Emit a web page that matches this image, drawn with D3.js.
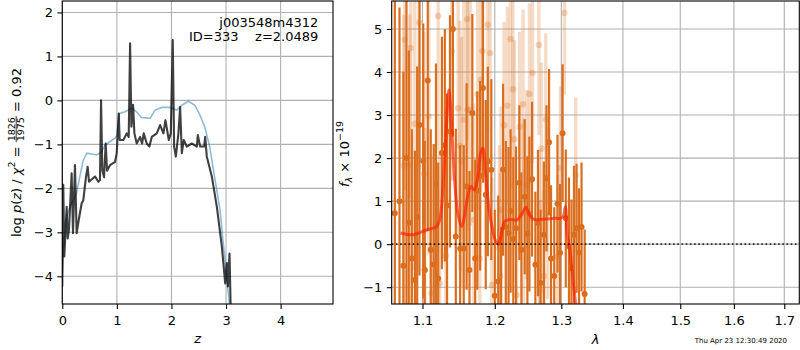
<!DOCTYPE html>
<html>
<head>
<meta charset="utf-8">
<script src="https://cdn.jsdelivr.net/npm/d3@7"></script>
<style>
  body { margin: 0; background: #fff; }
  svg { display: block; font-family: "DejaVu Sans", sans-serif; }
</style>
</head>
<body>
<svg id="fig" width="800" height="350"></svg>
<script>
// ---- left panel: log p(z) ----
const zGrid = [0, 0.018, 0.037, 0.08, 0.098, 0.122, 0.171, 0.196, 0.232, 0.263, 0.312, 0.355,
  0.385, 0.434, 0.465, 0.489, 0.6, 0.66, 0.69, 0.71, 0.734, 0.765, 0.795, 0.82, 0.875, 0.966,
  0.997, 1.034, 1.052, 1.119, 1.18, 1.217, 1.242, 1.266, 1.297, 1.321, 1.364, 1.425, 1.462,
  1.492, 1.547, 1.596, 1.639, 1.731, 1.792, 1.853, 1.89, 1.951, 1.988, 2.024, 2.049, 2.08,
  2.128, 2.159, 2.19, 2.226, 2.281, 2.373, 2.465, 2.483, 2.526, 2.599, 2.618, 2.648, 2.74,
  2.832, 2.924, 2.985, 3.015, 3.034, 3.064, 3.09];
const logPz = [-4.23, -1.92, -3.55, -2.42, -3.14, -2.95, -1.66, -3.02, -1.47, -3.02, -2.64, -2.34,
  -2.27, -1.74, -1.51, -1.85, -1.73, -1.85, -1.81, 0.0, -1.6, -1.75, -0.98, -1.6, -1.47, -1.4,
  -1.2, -0.3, -0.9, -0.9, -0.75, -0.83, 1.3, -0.6, -0.1, -0.75, -0.98, -0.83, -0.98,
  -0.75, -0.98, -1.05, -0.83, -0.75, -0.56, -0.75, -0.45, -0.9, -0.75, 1.37, -1.05, -1.28,
  -0.75, -0.15, -1.2, -0.9, -1.05, -0.98, -1.05, -0.79, -1.05, -1.05, -0.83, -1.28, -1.73,
  -2.42, -3.33, -4.16, -3.7, -4.23, -3.48, -5.0];

const zPrior = [0.0, 0.018, 0.08, 0.14, 0.2, 0.26, 0.32, 0.385, 0.45, 0.54, 0.63, 0.72, 0.78,
  0.87, 0.965, 1.0, 1.045, 1.15, 1.27, 1.36, 1.45, 1.61, 1.7, 1.82, 1.97, 2.1, 2.19, 2.31,
  2.43, 2.52, 2.61, 2.7, 2.79, 2.89, 2.95, 3.01, 3.06, 3.1];
const logPrior = [-3.9, -3.4, -2.64, -2.42, -2.27, -2.11, -1.74, -1.36, -1.2, -1.22, -1.24, -1.17,
  -1.02, -0.94, -0.86, -0.8, -0.3, -0.26, -0.18, -0.26, -0.39, -0.41, -0.22, -0.16, -0.16,
  -0.22, -0.11, -0.02, -0.11, -0.33, -0.6, -1.05, -1.74, -2.49, -3.25, -4.0, -4.6, -5.0];

const zTicks = [0, 1, 2, 3, 4];
const pTicks = [-4, -3, -2, -1, 0, 1, 2];

// ---- right panel: spectrum ----
const lamA = [1.064, 1.070, 1.075, 1.079, 1.082, 1.086, 1.090, 1.093, 1.096, 1.101, 1.103, 1.107,
  1.111, 1.115, 1.118, 1.121, 1.126, 1.130, 1.133, 1.137, 1.141, 1.145, 1.151, 1.156, 1.160,
  1.164, 1.168, 1.172, 1.175, 1.179, 1.183, 1.187, 1.190, 1.195, 1.200, 1.205, 1.209, 1.212,
  1.216, 1.220, 1.223, 1.227, 1.231, 1.236, 1.239, 1.244, 1.248, 1.251, 1.255, 1.260, 1.264,
  1.268, 1.273, 1.277, 1.281, 1.284, 1.289, 1.294, 1.298, 1.302, 1.307, 1.312, 1.316, 1.320,
  1.324, 1.328, 1.332, 1.337];
const fluxA = [0.72, 1.0, -0.5, 2.0, 0.5, -0.33, -0.83, 0.63, 2.77, 1.93, -0.6, 3.8,
  -0.13, -0.47, 1.4, -0.8, 2.12, 2.3, 0.9, 2.62, 5.0, 0.18, -0.1, -0.1, 1.34,
  -0.6, 3.05, -0.33, 1.24, 1.59, 3.63, 1.15, 1.92, 1.73, -1.2, -0.87, -1.6, 1.73,
  0.4, 0.26, 0.77, 0.12, 0.37, 1.43, -0.13, 1.1, 0.24, 0.7, 1.51, -0.48, 0.49,
  -0.9, 0.22, 1.53, 2.37, -0.33, -0.74, 0.94, -0.2, 2.58, 0.6, -0.05, -0.56, 0.22,
  0.37, -0.2, 0.4, -1.16];
const errA = [5.0, 4.5, 4.5, 4.2, 4.0, 3.0, 3.0, 3.5, 3.5, 3.2, 3.0, 3.5,
  2.8, 2.8, 2.8, 2.7, 2.7, 2.7, 2.6, 2.7, 2.5, 2.5, 2.4, 2.4, 2.4,
  2.3, 2.3, 2.3, 2.3, 2.2, 2.2, 2.2, 2.2, 2.1, 2.0, 2.0, 2.0, 2.0,
  2.0, 2.0, 1.9, 1.9, 1.9, 1.8, 1.8, 1.8, 1.8, 1.8, 1.8, 1.7, 1.7,
  1.7, 1.7, 1.7, 1.7, 1.7, 1.6, 1.6, 1.6, 1.6, 1.6, 1.6, 1.6, 1.6,
  1.5, 1.5, 1.5, 1.5];

const lamB = [1.0755, 1.0768, 1.0833, 1.0846, 1.0899, 1.0955, 1.1021, 1.1030, 1.1084, 1.1120,
  1.1209, 1.1230, 1.1313, 1.1395, 1.1482, 1.1507, 1.1529, 1.1561, 1.1607, 1.1613, 1.1650,
  1.1701, 1.1754, 1.1786, 1.1800, 1.1824, 1.1896, 1.1934, 1.1957, 1.2066, 1.2078, 1.2090,
  1.2135, 1.2184, 1.2229, 1.2265, 1.2286, 1.2319, 1.2364, 1.2415, 1.2423, 1.2469, 1.2511,
  1.2557, 1.2654, 1.2660, 1.2670, 1.2692, 1.2732, 1.2759, 1.2786, 1.2943, 1.2985, 1.3049, 1.3227];
const fluxB = [1.83, 4.75, 1.84, 4.56, 2.8, 5.15, 1.63, -0.6, 2.97, -1.14,
  5.3, -0.91, -0.27, 4.48, 3.16, 2.29, 1.92, 2.89, 5.23, 3.12, 3.12,
  0.57, 3.49, -0.33, 3.82, 4.49, 5.1, 4.44, -0.95, -0.1, -0.74, 0.8,
  2.77, 3.22, 4.77, 3.6, 2.44, -1.18, 2.73, 3.25, 0.72, 1.38, 3.49,
  3.98, 4.63, 0.1, -1.08, 2.22, -0.74, 2.9, 0.72, -0.29, 1.77, 5.37, 1.61];
const errB = [3.5, 3.5, 3.5, 3.5, 3.4, 3.4, 3.3, 3.3, 3.2, 3.2,
  3.1, 3.1, 3.0, 3.0, 2.9, 2.9, 2.9, 2.8, 2.8, 2.8, 2.7,
  2.7, 2.7, 2.6, 2.6, 2.6, 2.5, 2.5, 2.5, 2.4, 2.4, 2.4,
  2.4, 2.3, 2.3, 2.3, 2.3, 2.2, 2.2, 2.2, 2.2, 2.2, 2.1,
  2.1, 2.1, 2.1, 2.1, 2.0, 2.0, 2.0, 2.0, 1.9, 1.9, 1.9, 1.8];

const lamM = [1.0712, 1.0876, 1.1053, 1.1187, 1.1231, 1.1275, 1.1321, 1.1356, 1.1388, 1.1433,
  1.1478, 1.1533, 1.1569, 1.1614, 1.1660, 1.1706, 1.1752, 1.1798, 1.1830, 1.1867, 1.1913,
  1.1959, 1.2006, 1.2052, 1.2099, 1.2145, 1.2215, 1.2333, 1.2403, 1.2460, 1.2498, 1.2569,
  1.2713, 1.2906, 1.2979, 1.3028, 1.3063, 1.3091, 1.3140, 1.3190, 1.3225, 1.3250];
const fluxM = [0.26, 0.22, 0.33, 0.41, 0.57, 1.34, 2.73, 3.59, 2.89, 1.5,
  0.72, 0.41, 0.64, 1.1, 1.34, 1.26, 1.5, 2.12, 2.23, 1.65, 0.87,
  0.41, 0.1, 0.0, 0.26, 0.53, 0.57, 0.57, 0.72, 0.86, 0.72, 0.58,
  0.58, 0.6, 0.6, 0.64, 0.87, 0.26, -0.21, -0.91, -1.39, -2.0];

const lamTicks = [1.1, 1.2, 1.3, 1.4, 1.5, 1.6, 1.7];
const fTicks = [-1, 0, 1, 2, 3, 4, 5];

const idLine1 = "j003548m4312";
const idLine2 = "ID=333    z=2.0489";
const stamp = "Thu Apr 23 12:30:49 2020";

// ---- layout ----
const svg = d3.select("#fig");
const FS = 13;
const GRID = "#b0b0b0";
const ORANGE = "#db6e1e";

const L = { x0: 62.3, x1: 333, y0: 1, y1: 304 };
const R = { x0: 391.7, x1: 799.3, y0: 1, y1: 304 };

const xz = d3.scaleLinear().domain([0, 4.96]).range([L.x0, L.x1]);
const yp = d3.scaleLinear().domain([-4.63, 2.26]).range([L.y1, L.y0]);
const xl = d3.scaleLog().domain([1.06, 1.731]).range([R.x0, R.x1]);
const yf = d3.scaleLinear().domain([-1.39, 5.65]).range([R.y1, R.y0]);

const defs = svg.append("defs");
[["clipL", L], ["clipR", R]].forEach(([id, b]) => {
  defs.append("clipPath").attr("id", id).append("rect")
    .attr("x", b.x0).attr("y", b.y0).attr("width", b.x1 - b.x0).attr("height", b.y1 - b.y0);
});

function grid(b, xs, xv, ys, yv) {
  const g = svg.append("g");
  g.selectAll(".gx").data(xv).join("line")
    .attr("x1", d => xs(d)).attr("x2", d => xs(d)).attr("y1", b.y0).attr("y2", b.y1)
    .attr("stroke", GRID).attr("stroke-width", 1.1);
  g.selectAll(".gy").data(yv).join("line")
    .attr("x1", b.x0).attr("x2", b.x1).attr("y1", d => ys(d)).attr("y2", d => ys(d))
    .attr("stroke", GRID).attr("stroke-width", 1.1);
}

function axes(b, xs, xv, xfmt, ys, yv) {
  const gx = svg.append("g").attr("transform", `translate(0,${b.y1})`)
    .call(d3.axisBottom(xs).tickValues(xv).tickFormat(xfmt).tickSize(4.9).tickPadding(6.5));
  const gy = svg.append("g").attr("transform", `translate(${b.x0},0)`)
    .call(d3.axisLeft(ys).tickValues(yv).tickFormat(d3.format("d")).tickSize(4.9).tickPadding(4.5));
  [gx, gy].forEach(g => {
    g.select(".domain").remove();
    g.selectAll(".tick line").attr("stroke", "#000").attr("stroke-width", 1.1);
    g.selectAll(".tick text").attr("fill", "#000").attr("font-size", FS)
      .attr("font-family", "DejaVu Sans");
  });
  svg.append("rect").attr("x", b.x0).attr("y", b.y0)
    .attr("width", b.x1 - b.x0).attr("height", b.y1 - b.y0)
    .attr("fill", "none").attr("stroke", "#000").attr("stroke-width", 1.1);
}

function mathLabel(x, y, pieces) {
  const g = svg.append("g").attr("transform", `translate(${x},${y}) rotate(-90)`);
  const inner = g.append("g");
  let cx = 0;
  pieces.forEach(p => {
    if (p.frac) {
      const num = inner.append("text").attr("font-size", p.size).attr("text-anchor", "middle").text(p.frac[0]);
      const den = inner.append("text").attr("font-size", p.size).attr("text-anchor", "middle").text(p.frac[1]);
      const w = Math.max(num.node().getComputedTextLength(), den.node().getComputedTextLength()) + 2;
      num.attr("x", cx + w / 2).attr("y", p.numY);
      den.attr("x", cx + w / 2).attr("y", p.denY);
      inner.append("line").attr("x1", cx).attr("x2", cx + w)
        .attr("y1", p.barY).attr("y2", p.barY).attr("stroke", "#000").attr("stroke-width", 0.8);
      cx += w;
    } else {
      const t = inner.append("text").attr("x", cx).attr("y", p.dy || 0)
        .attr("font-size", p.size || FS)
        .attr("font-style", p.it ? "italic" : null)
        .style("white-space", "pre").text(p.t);
      cx += t.node().getComputedTextLength();
    }
  });
  inner.attr("transform", `translate(${-cx / 2},0)`);
}

// ---- left panel ----
grid(L, xz, zTicks, yp, pTicks);
const gL = svg.append("g").attr("clip-path", "url(#clipL)");
const lineL = d3.line().x(d => xz(d[0])).y(d => yp(d[1]));
gL.append("path").datum(d3.zip(zPrior, logPrior)).attr("d", lineL)
  .attr("fill", "none").attr("stroke", "#1f77b4").attr("stroke-opacity", 0.5).attr("stroke-width", 1.6);
gL.append("path").datum(d3.zip(zGrid, logPz)).attr("d", lineL)
  .attr("fill", "none").attr("stroke", "#000").attr("stroke-opacity", 0.75)
  .attr("stroke-width", 2.1).attr("stroke-linejoin", "round");
axes(L, xz, zTicks, d3.format("d"), yp, pTicks);

svg.append("text").attr("x", 318.3).attr("y", 26.5).attr("text-anchor", "end")
  .attr("font-size", FS).text(idLine1);
svg.append("text").attr("x", 318.3).attr("y", 40.5).attr("text-anchor", "end")
  .attr("font-size", FS).style("white-space", "pre").text(idLine2);

mathLabel(20.5, 152.5, [
  { t: "log " }, { t: "p", it: true }, { t: "(" }, { t: "z", it: true }, { t: ") / " },
  { t: "χ", it: true }, { t: "2", size: 9.5, dy: -5.5 }, { t: " = " },
  { frac: ["1826", "1975"], size: 9.5, numY: -6, denY: 3.6, barY: -4.3 },
  { t: " = 0.92" }
]);
svg.append("text").attr("x", xz(2.48)).attr("y", 343).attr("text-anchor", "middle")
  .attr("font-size", FS).attr("font-style", "italic").text("z");

// ---- right panel ----
grid(R, xl, lamTicks, yf, fTicks);
const gR = svg.append("g").attr("clip-path", "url(#clipR)");
const light = d3.zip(lamB, fluxB, errB);
const dark = d3.zip(lamA, fluxA, errA);

gR.append("g").selectAll("line").data(light).join("line")
  .attr("x1", d => xl(d[0])).attr("x2", d => xl(d[0]))
  .attr("y1", d => yf(d[1] - d[2])).attr("y2", d => yf(d[1] + d[2]))
  .attr("stroke", ORANGE).attr("stroke-opacity", 0.25).attr("stroke-width", 3.4);
gR.append("g").selectAll("circle").data(light).join("circle")
  .attr("cx", d => xl(d[0])).attr("cy", d => yf(d[1])).attr("r", 3.2)
  .attr("fill", ORANGE).attr("fill-opacity", 0.28);

gR.append("g").selectAll("line").data(dark).join("line")
  .attr("x1", d => xl(d[0])).attr("x2", d => xl(d[0]))
  .attr("y1", d => yf(d[1] - d[2])).attr("y2", d => yf(d[1] + d[2]))
  .attr("stroke", ORANGE).attr("stroke-width", 2.2);
gR.append("g").selectAll("circle").data(dark).join("circle")
  .attr("cx", d => xl(d[0])).attr("cy", d => yf(d[1])).attr("r", 3)
  .attr("fill", ORANGE);

gR.append("path").datum(d3.zip(lamM, fluxM))
  .attr("d", d3.line().x(d => xl(d[0])).y(d => yf(d[1])).curve(d3.curveCatmullRom))
  .attr("fill", "none").attr("stroke", "#ff1a00").attr("stroke-opacity", 0.65)
  .attr("stroke-width", 3).attr("stroke-linejoin", "round");

gR.append("line").attr("x1", R.x0).attr("x2", R.x1).attr("y1", yf(0)).attr("y2", yf(0))
  .attr("stroke", "#000").attr("stroke-opacity", 0.8).attr("stroke-width", 1.6)
  .attr("stroke-dasharray", "1.6,2.6");

axes(R, xl, lamTicks, d3.format(".1f"), yf, fTicks);

mathLabel(348.5, 154, [
  { t: "f", it: true }, { t: "λ", it: true, size: 9.5, dy: 3 }, { t: " × 10" },
  { t: "−19", size: 9.5, dy: -5.5 }
]);
svg.append("text").attr("x", (R.x0 + R.x1) / 2).attr("y", 344).attr("text-anchor", "middle")
  .attr("font-size", FS).attr("font-style", "italic").text("λ");

svg.append("text").attr("x", 787).attr("y", 342.5).attr("text-anchor", "end")
  .attr("font-size", 7).text(stamp);
</script>
</body>
</html>
